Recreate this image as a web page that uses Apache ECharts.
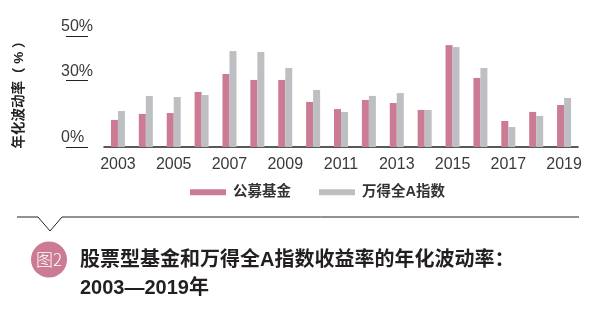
<!DOCTYPE html>
<html>
<head>
<meta charset="utf-8">
<script src="https://cdn.jsdelivr.net/npm/echarts@6/dist/echarts.min.js"></script>
<style>
html,body{margin:0;padding:0;background:#fff;}
#chart{width:604px;height:326px;}
</style>
</head>
<body>
<div id="chart"></div>
<script>
var years = ['2003','2004','2005','2006','2007','2008','2009','2010','2011','2012','2013','2014','2015','2016','2017','2018','2019'];
var fundVol = [12.2, 14.9, 15.3, 24.8, 32.9, 30.2, 30.2, 20.3, 17.1, 21.2, 19.8, 16.7, 45.9, 31.1, 11.7, 15.8, 18.9];
var windAVol = [16.2, 23.0, 22.5, 23.4, 43.2, 42.8, 35.6, 25.7, 15.8, 23.0, 24.3, 16.7, 45.0, 35.6, 9.0, 14.0, 22.1];
var yTicks = [0, 30, 50];
var seriesNames = ['公募基金', '万得全A指数'];
var yTitle = '年化波动率（ % ）';
var chartTitle = '股票型基金和万得全A指数收益率的年化波动率：\n2003—2019年';
var badgeText = '图2';

var PINK = '#cb7b93', GRAY = '#bebfc3';
var LATIN = '"Liberation Sans","Noto Sans CJK SC",sans-serif';

var chart = echarts.init(document.getElementById('chart'), null, {renderer:'canvas'});
chart.setOption({
  backgroundColor: '#fff',
  animation: false,
  grid: {left: 104, right: 26, top: 36, bottom: 179, containLabel: false},
  title: {
    text: chartTitle,
    left: 80, top: 246, padding: 0,
    textStyle: {fontFamily: LATIN, fontSize: 20, fontWeight: 'bold', color: '#231f20', lineHeight: 28}
  },
  legend: {
    left: 190, top: 185, padding: 0,
    itemWidth: 36, itemHeight: 6, itemGap: 28,
    icon: 'rect',
    data: seriesNames,
    textStyle: {fontFamily: LATIN, fontSize: 14.5, fontWeight: 'bold', color: '#333', padding: [0,0,0,2]}
  },
  xAxis: {
    type: 'category',
    data: years,
    axisLine: {show: true, lineStyle: {color: '#222', width: 1.5}},
    axisTick: {show: false},
    axisLabel: {interval: 1, margin: 10, fontSize: 16, color: '#3a3a3a', fontFamily: LATIN}
  },
  yAxis: {
    type: 'value',
    min: 0, max: 50,
    offset: 16,
    name: yTitle,
    nameLocation: 'middle',
    nameRotate: 90,
    nameGap: 62,
    nameTextStyle: {fontFamily: LATIN, fontSize: 13.5, fontWeight: 'bold', color: '#222'},
    splitLine: {show: false},
    axisLine: {show: false},
    axisTick: {show: true, customValues: yTicks, length: 22, lineStyle: {color: '#222', width: 1}},
    axisLabel: {
      customValues: yTicks,
      align: 'left', verticalAlign: 'bottom',
      margin: 27, fontSize: 16, color: '#3a3a3a', fontFamily: LATIN,
      lineHeight: 16, padding: [0,0,1,0],
      formatter: function (v) { return v + '%'; }
    }
  },
  series: [
    {name: seriesNames[0], type: 'bar', data: fundVol, barWidth: 7, barGap: '0%', itemStyle: {color: PINK}},
    {name: seriesNames[1], type: 'bar', data: windAVol, barWidth: 7, barGap: '0%', itemStyle: {color: GRAY}}
  ],
  graphic: [
    {type: 'polyline', shape: {points: [[17,217],[38,217],[50,231],[62,217],[579,217]]}, style: {stroke: '#222', lineWidth: 1, fill: null}},
    {type: 'circle', shape: {cx: 49, cy: 259.5, r: 18}, style: {fill: PINK}},
    {type: 'text', x: 49, y: 259.5, style: {text: badgeText, fill: '#fff', font: '300 17px "Noto Sans CJK SC", sans-serif', align: 'center', verticalAlign: 'middle'}}
  ]
});
</script>
</body>
</html>
